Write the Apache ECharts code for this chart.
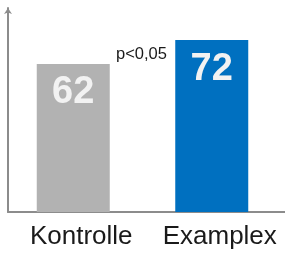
<!DOCTYPE html>
<html>
<head>
<meta charset="utf-8">
<script src="https://cdn.jsdelivr.net/npm/echarts@6/dist/echarts.min.js"></script>
<style>
  html, body { margin: 0; padding: 0; background: #fff; }
  #chartMain { width: 285px; height: 258px; }
</style>
</head>
<body>
<div id="chartMain"></div>
<script>
// data
var categories = ['Kontrolle', 'Examplex'];
var values = [62, 72];
var barColors = ['#b2b2b2', '#0070c0'];
var pText = 'p<0,05';

var myChart = echarts.init(document.getElementById('chartMain'));
var option = {
  animation: false,
  grid: [
    // bars
    { left: 4, width: 277, top: 9, bottom: 46 },
    // axis lines only
    { left: 8, right: 0, top: 8, bottom: 46 }
  ],
  xAxis: [
    {
      gridIndex: 0, type: 'category', data: categories,
      axisLine: { show: false }, axisTick: { show: false }, axisLabel: { show: false }
    },
    {
      gridIndex: 1, type: 'category', data: categories,
      axisLine: { lineStyle: { color: '#8c8c8c', width: 2 } },
      axisTick: { show: false },
      axisLabel: {
        interval: 0, hideOverlap: false,
        color: '#1a1a1a', fontSize: 26, fontFamily: 'Liberation Sans, Arial, sans-serif',
        margin: 12, padding: [0, 0, 0, 8]
      }
    }
  ],
  yAxis: [
    {
      gridIndex: 0, type: 'value', min: 0, max: 85,
      show: false
    },
    {
      gridIndex: 1, type: 'value', min: 0, max: 1,
      axisLine: { show: true, symbol: ['none', 'arrow'], symbolSize: [6, 6], lineStyle: { color: '#8c8c8c', width: 2 } },
      axisTick: { show: false }, axisLabel: { show: false }, splitLine: { show: false }
    }
  ],
  series: [{
    type: 'bar',
    xAxisIndex: 0, yAxisIndex: 0,
    barWidth: 73,
    data: values.map(function (v, i) {
      return { value: v, itemStyle: { color: barColors[i] } };
    }),
    label: {
      show: true,
      position: ['50%', 29],
      align: 'center',
      verticalAlign: 'middle',
      color: '#f2f2f2',
      fontSize: 38,
      fontWeight: 'bold',
      fontFamily: 'Liberation Sans, Arial, sans-serif'
    }
  }],
  graphic: [{
    type: 'text',
    left: 116, top: 46,
    style: { text: pText, fill: '#1a1a1a', fontSize: 16.5, fontFamily: 'Liberation Sans, Arial, sans-serif' }
  }]
};
myChart.setOption(option, true);
</script>
</body>
</html>
